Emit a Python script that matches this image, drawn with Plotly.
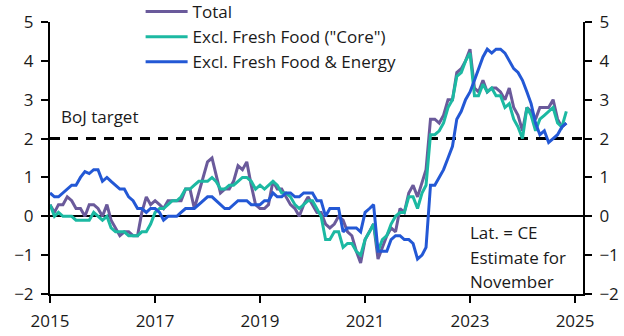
import pandas as pd
import plotly.graph_objects as go

# Monthly y/y CPI inflation, %, Jan 2015 - Nov 2024
months = pd.date_range("2015-01-01", periods=119, freq="MS")

total = [
    0.3, 0.1, 0.3, 0.3, 0.5, 0.4, 0.2, 0.2, 0.0, 0.3, 0.3, 0.2,
    0.0, 0.3, -0.1, -0.3, -0.5, -0.4, -0.4, -0.5, -0.5, 0.1, 0.5, 0.3,
    0.4, 0.3, 0.2, 0.4, 0.4, 0.4, 0.4, 0.7, 0.7, 0.2, 0.6, 1.0,
    1.4, 1.5, 1.1, 0.6, 0.7, 0.7, 0.9, 1.3, 1.2, 1.4, 0.8, 0.3,
    0.2, 0.2, 0.3, 0.9, 0.7, 0.7, 0.5, 0.3, 0.2, 0.0, 0.3, 0.5,
    0.3, 0.1, 0.1, -0.2, -0.3, -0.2, 0.0, -0.1, -0.4, -0.5, -0.9, -1.2,
    -0.6, -0.4, -0.2, -1.1, -0.8, -0.5, -0.3, -0.4, 0.2, 0.1, 0.6, 0.8,
    0.5, 0.9, 1.2, 2.5, 2.5, 2.4, 2.6, 3.0, 3.0, 3.7, 3.8, 4.0,
    4.3, 3.3, 3.2, 3.5, 3.2, 3.3, 3.3, 3.2, 3.0, 3.3, 2.8, 2.6,
    2.2, 2.8, 2.7, 2.5, 2.8, 2.8, 2.8, 3.0, 2.5, 2.3, 2.4,
]

core = [
    0.3, 0.0, 0.1, 0.0, 0.0, 0.0, -0.1, -0.1, -0.1, -0.1, 0.1, 0.0,
    -0.1, 0.0, -0.3, -0.4, -0.4, -0.4, -0.5, -0.5, -0.5, -0.4, -0.4, -0.2,
    0.1, 0.2, 0.2, 0.3, 0.4, 0.4, 0.5, 0.7, 0.7, 0.8, 0.9, 0.9,
    0.9, 1.0, 0.9, 0.7, 0.7, 0.8, 0.8, 0.9, 1.0, 1.0, 0.9, 0.7,
    0.8, 0.7, 0.8, 0.9, 0.8, 0.6, 0.6, 0.5, 0.3, 0.2, 0.3, 0.4,
    0.4, 0.2, 0.0, -0.6, -0.6, -0.4, -0.4, -0.8, -0.7, -0.7, -0.9, -1.0,
    -0.6, -0.4, -0.2, -0.9, -0.6, -0.5, -0.2, 0.0, 0.1, 0.1, 0.5, 0.5,
    0.2, 0.6, 0.8, 2.1, 2.1, 2.2, 2.4, 2.8, 3.0, 3.6, 3.7, 4.0,
    4.2, 3.1, 3.1, 3.4, 3.2, 3.3, 3.1, 3.1, 2.8, 2.9, 2.5, 2.3,
    2.0, 2.8, 2.6, 2.2, 2.5, 2.6, 2.7, 2.8, 2.4, 2.3, 2.7,
]

core_core = [
    0.6, 0.5, 0.5, 0.6, 0.7, 0.8, 0.8, 1.0, 1.15, 1.1, 1.2, 1.2,
    0.9, 1.0, 0.9, 0.8, 0.7, 0.7, 0.5, 0.4, 0.2, 0.2, 0.1, 0.2,
    0.2, 0.1, -0.1, 0.0, 0.0, 0.0, 0.1, 0.2, 0.2, 0.2, 0.3, 0.4,
    0.5, 0.5, 0.4, 0.3, 0.2, 0.2, 0.3, 0.4, 0.4, 0.4, 0.3, 0.3,
    0.3, 0.4, 0.4, 0.6, 0.5, 0.5, 0.6, 0.6, 0.5, 0.5, 0.6, 0.6,
    0.6, 0.4, 0.4, 0.0, 0.2, 0.2, 0.2, -0.4, -0.3, -0.3, -0.3, -0.4,
    0.1, 0.2, 0.3, -0.9, -0.9, -0.9, -0.6, -0.5, -0.5, -0.6, -0.6, -0.7,
    -1.1, -1.0, -0.8, 0.8, 0.8, 1.0, 1.2, 1.5, 1.8, 2.5, 2.7, 3.0,
    3.2, 3.5, 3.8, 4.1, 4.3, 4.2, 4.3, 4.3, 4.2, 4.0, 3.8, 3.7,
    3.5, 3.2, 2.9, 2.4, 2.1, 2.2, 1.9, 2.0, 2.1, 2.3, 2.4,
]

series_names = ["Total", 'Excl. Fresh Food ("Core")', "Excl. Fresh Food & Energy"]
series_colors = ["#6a5a9b", "#1cb9a2", "#2358d5"]
boj_target = 2
y_ticks = [-2, -1, 0, 1, 2, 3, 4, 5]
note_lines = ["Lat. = CE", "Estimate for", "November"]
note_y = [-0.41, -1.05, -1.69]

FONT = "Open Sans"
FS = 17
INK = "#1a1a1a"

fig = go.Figure()
for name, vals, col in zip(series_names, [total, core, core_core], series_colors):
    fig.add_trace(go.Scatter(x=months, y=vals, name=name, mode="lines",
                             line=dict(color=col, width=3)))

# invisible trace so the mirrored right-hand axis is rendered
fig.add_trace(go.Scatter(x=months, y=core, yaxis="y2", mode="lines",
                         line=dict(width=0), opacity=0, showlegend=False,
                         hoverinfo="skip"))

# BoJ 2% target
fig.add_shape(type="line", xref="paper", x0=0, x1=1, yref="y", y0=boj_target, y1=boj_target,
              line=dict(color="black", width=3, dash="10px,8px"), layer="below")

axis_common = dict(
    range=[-2, 5], tickvals=y_ticks, showgrid=False,
    showline=True, linecolor="black", linewidth=2,
    ticks="outside", ticklen=7, tickwidth=2, tickcolor="black",
    tickfont=dict(family=FONT, size=FS, color=INK), ticklabelstandoff=4,
)

fig.update_layout(
    width=624, height=336,
    margin=dict(l=50, r=41, t=22, b=42, autoexpand=False),
    paper_bgcolor="white", plot_bgcolor="white",
    font=dict(family=FONT, size=FS, color=INK),
    xaxis=dict(
        type="date", range=["2015-01-01", "2025-02-25"],
        tick0="2015-01-01", dtick="M24", tickformat="%Y",
        showgrid=False, showline=True, linecolor="black", linewidth=2,
        ticks="outside", ticklen=7, tickwidth=2, tickcolor="black",
        tickfont=dict(family=FONT, size=FS, color=INK), zeroline=False,
        ticklabelstandoff=4, automargin=False,
    ),
    yaxis=dict(**axis_common, side="left", zeroline=True, zerolinecolor="black",
               zerolinewidth=2, automargin=False),
    yaxis2=dict(**axis_common, side="right", overlaying="y", zeroline=False,
                automargin=False),
    legend=dict(x=0.17, y=1.103, xanchor="left", yanchor="top", itemwidth=42,
                bgcolor="rgba(0,0,0,0)", font=dict(family=FONT, size=FS, color=INK),
                tracegroupgap=0),
    showlegend=True,
)

fig.add_annotation(text="BoJ target", xref="paper", x=0.016, xanchor="left",
                   yref="y", y=2.57, yanchor="middle", showarrow=False,
                   font=dict(family=FONT, size=FS, color=INK))
for line_text, yv in zip(note_lines, note_y):
    fig.add_annotation(text=line_text, xref="x", x="2022-12-20", xanchor="left",
                       yref="y", y=yv, yanchor="middle", align="left", showarrow=False,
                       font=dict(family=FONT, size=FS, color=INK))

fig.write_html("out.html")
